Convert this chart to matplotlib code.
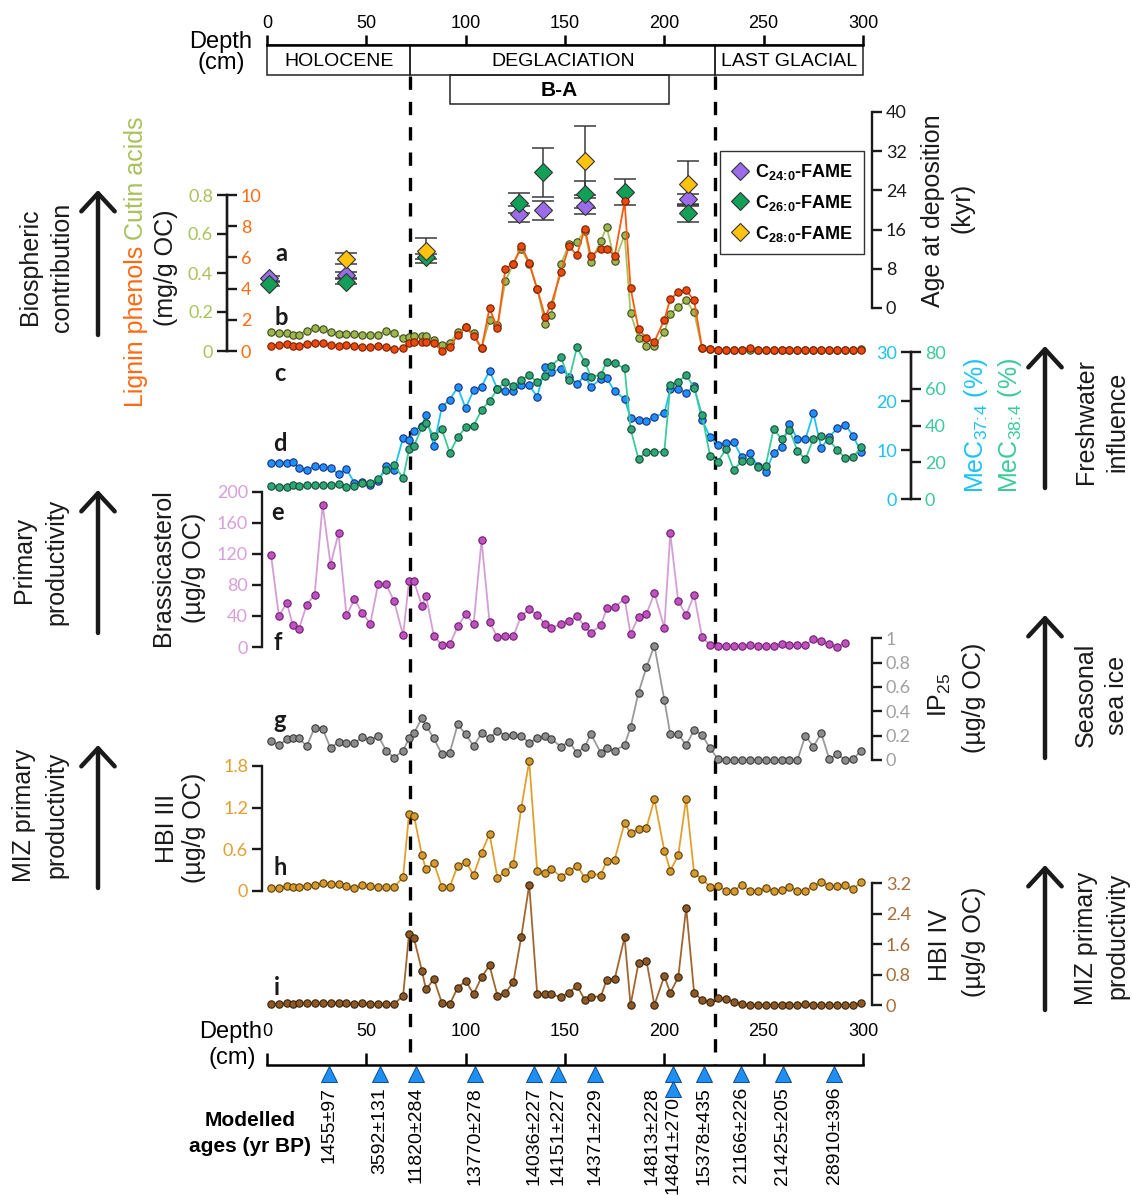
import numpy as np
import matplotlib
matplotlib.use('Agg')
import matplotlib.pyplot as plt
import matplotlib.transforms as mtransforms
from matplotlib.patches import Rectangle
from matplotlib.lines import Line2D

nan = np.nan

# ---------------- data ----------------
DEPTH = [2, 6, 10, 13, 16, 20, 24, 28, 32, 36, 40, 44, 48, 52, 56, 60, 64, 68.5, 71.5, 74,
         78, 80, 84, 88, 92, 96, 100, 104, 108, 112, 116, 120, 124, 128, 132, 136, 140, 143, 148, 152,
         156, 160, 163, 168, 171, 175, 180, 183, 187, 191, 195, 200, 203, 207, 211, 215, 219, 223, 227, 231,
         235, 239, 243, 247, 251, 255, 259, 263, 267, 271, 275, 279, 283, 287, 291, 295, 299]

CUTIN = [.100, .091, .091, .083, .083, .105, .117, .112, .095, .088, .088, .088, .083, .083, .083, .105, .091,
         .065, .074, .075, .077, .077,
         .057, .031, .040, .095, .122, .091, .014,
         .160, .134, .358, .447, .525, .444, .318, .139, .186, .447,
         .547, .560, .616, .456, .564, .636, .461, .595, .194, .065,
         .026, .026, .096, .191, .225, .260, .198, .014, .009,
         .006, .005, .005, .006, .005, .005, .005, .006, .005, .005, .005, .005, .006, .005, .005, .005, .005, .006, .008]

LIGNIN = [.34, .39, .43, .34, .34, .43, .54, .49, .39, .34, .39, .32, .28, .24, .32, .24, .11,
          .17, .54, .58, .60, .60,
          .49, .02, .24, 1.03, 1.53, .97, .17,
          2.75, 1.46, 5.27, 5.59, 6.73, 5.66, 3.98, 2.21, 2.97, 5.05,
          6.7, 6.15, 7.85, 6.09, 6.56, 6.56, 6.09, 9.59, 4.04, 1.40,
          .82, .60, 2.0, 3.33, 3.76, 3.89, 3.25, .17, .11,
          .06, .05, .05, .06, .17, .05, .05, .06, .05, .05, .05, .06, .05, .05, .05, .05, .06, .05, .05]

MEC37 = [7.4, 7.4, 7.4, 7.55, 6.4, 5.9, 6.7, 6.6, 6.3, 5.1, 6.1, 3.3, 3.5, 2.9, 3.7, 6.7, 5.9,
         12.5, 12.0, 13.9, 15.0, 17.1,
         10.8, 18.8, 20.3, 22.8, 18.5, 22.2, 22.9, 26.2, 22.4, 22.0, 22.0, 23.2, 23.2, 20.9, 26.9, 25.9,
         26.6, 25.0, 23.5, 25.2, 22.9, 24.5, 24.6, 22.0, 20.4, 16.6, 16.1, 15.9, 16.8, 17.5, 22.4, 22.4,
         21.6, 23.1, 16.1, 12.7, 11.0, 11.4, 11.6, 8.5, 9.3, 6.8, 5.6, 9.3, 10.7, 15.3, 12.2, 12.2, 17.5,
         10.4, 12.7, 14.4, 15.2, 12.9, 9.6]

MEC38 = [7.3, 6.7, 6.7, 7.6, 7.3, 7.4, 7.6, 7.4, 7.4, 8.2, 6.7, 7.1, 8.5, 8.9, 10.9, 15.8, 18.5, 11.3,
         27.0, 29.0, 39.0, 41.5,
         34.3, 37.9, 25.2, 33.6, 39.0, 39.9, 48.4, 53.5, 59.7, 63.9, 61.7, 64.8, 67.5, 63.5, 67.1, 72.6,
         77.1, 64.8, 82.5, 74.7, 66.6, 67.5, 74.7, 73.8, 71.1, 38.1, 21.8, 25.8, 25.4, 25.8, 62.0, 63.9,
         67.5, 60.6, 45.7, 23.6, 20.3, 27.2, 15.8, 20.9, 20.9, 17.2, 18.1, 38.1, 32.7, 37.6, 26.3, 21.6,
         32.7, 34.3, 32.1, 26.7, 22.5, 22.7, 28.1]

BRASSICASTEROL = [118.8, 39.7, 56.8, 27.8, 22.7, 54.3, 67.5, 182.9, 106.0, 146.2,
                  40.6, 61.1, 44.0, 29.9, 81.6, 80.4, 58.6, 15.0, 84.6, 84.6,
                  52.6, 66.2, 14.1, 2.6, 3.4, 26.5, 41.9, 29.9, 137.6, 32.1,
                  12.8, 14.1, 14.1, 40.2, 48.3, 41.5, 29.1, 24.4, 29.1, 33.3,
                  39.3, 26.5, 18.0, 27.8, 49.6, 51.3, 62.0, 16.7, 38.9, 42.7,
                  69.2, 24.8, 146.2, 58.6, 41.5, 67.1, 12.8, 2.6, 1.3, 1.3,
                  1.3, 1.3, 2.1, 1.3, 1.3, 1.3, 4.3, 2.6, 2.6, 2.1,
                  10.7, 7.3, 4.3, 0.0, 5.1, nan, nan]

IP25 = [.159, .123, .170, .178, .178, .115, .266, .258, .096, .151,
        .137, .137, .186, .164, .197, .077, .019, .077, .178, .22,
        .348, .282, .178, .047, .060, .293, .211, .115, .219, .178,
        .241, .200, .206, .197, .142, .178, .197, .173, .110, .151,
        .060, .110, .214, .060, .096, .077, .123, .269, .553, .762,
        .940, .493, .211, .211, .123, .247, .206, .096, .008,
        0, 0, 0, 0, 0, 0, 0, 0, 0, 0,
        .2, .11, .219, .008, .049, 0, .005, .077]

HBI_III = [.043, .043, .067, .048, .058, .067, .086, .106, .096, .096,
           .067, .034, .082, .062, .048, .048, .048, .20, 1.11, 1.08,
           .51, .31, .40, .058, .058, .36, .42, .23, .55, .82,
           .19, .27, .39, 1.20, 1.87, .29, .25, .32, .20, .28,
           .36, .19, .24, .23, .43, .45, .98, .83, .89, .91,
           1.32, .58, .29, .51, 1.33, .25, .17, .058, .072, 0,
           0, .082, 0, 0, .034, 0, .01, .048, 0, 0,
           .067, .13, .067, .067, .082, .024, .12]

HBI_IV = [.026, .018, .044, .026, .044, .044, .061, .044, .061, .061,
          .044, .026, .044, .026, .026, .026, .026, .24, 1.87, 1.75,
          .90, .41, .68, .06, .02, .46, .63, .29, .73, 1.04,
          .24, .32, .60, 1.80, 3.16, .29, .28, .28, .21, .32,
          .51, .13, .22, .22, .66, .68, 1.78, 0, 1.10, 1.17,
          0, .76, .32, .73, 2.56, .32, .13, .07, .18, .16,
          .09, .02, 0, 0, 0, 0, 0, 0, 0, .02,
          0, 0, 0, 0, 0, 0, .044]

FAME_DEPTH = [1, 40, 80, 127, 139, 160, 180, 212]
C24_AGE = [6.1, 6.7, nan, 19.2, 19.9, 20.8, nan, 22.2]
C24_ERR = [0.5, 0.6, nan, 1.7, 1.9, 1.7, nan, 1.0]
C26_AGE = [4.9, 5.4, 10.5, 21.4, 27.7, 23.2, 23.7, 19.3]
C26_ERR = [0.5, 0.6, 0.6, 2.0, 5.0, 2.7, 2.7, 1.8]
C28_AGE = [nan, 10.1, 11.7, nan, nan, 30.1, nan, 25.4]
C28_ERR = [nan, 1.2, 2.5, nan, nan, 7.0, nan, 4.6]
FAME_LABELS = [r'C$_{\mathbf{24\!:\!0}}$-FAME', r'C$_{\mathbf{26\!:\!0}}$-FAME',
               r'C$_{\mathbf{28\!:\!0}}$-FAME']

AGE_MODEL_DEPTH = [31, 56.7, 75, 104.7, 134.5, 146.5, 165, 204.5, 204.5, 219.8, 238.8, 259.5, 285.5]
AGE_MODEL_LABELS = ['1455±97', '3592±131', '11820±284', '13770±278', '14036±227', '14151±227',
                    '14371±229', '14813±228', '14841±270', '15378±435', '21166±226', '21425±205',
                    '28910±396']

PERIOD_EDGES = [0, 72.2, 225.5, 300]
PERIOD_NAMES = ['HOLOCENE', 'DEGLACIATION', 'LAST GLACIAL']
BA_RANGE = [92, 202.4]
DEPTH_TICKS = [0, 50, 100, 150, 200, 250, 300]

# ---------------- style ----------------
plt.rcParams['font.family'] = ['Liberation Sans', 'DejaVu Sans']
plt.rcParams['mathtext.fontset'] = 'custom'
plt.rcParams['mathtext.rm'] = 'Liberation Sans'
plt.rcParams['mathtext.it'] = 'Liberation Sans:italic'
plt.rcParams['mathtext.bf'] = 'Liberation Sans:bold'

W, H, DPI = 1132, 1195, 100
XL, XR = 267.0, 863.0
INK = '#1a1a1a'
NUM_FONT = ['Lato', 'DejaVu Sans']
NARROW = ['Liberation Sans Narrow', 'Liberation Sans', 'DejaVu Sans']

OLIVE_T = '#A9C25C'
ORANGE_T = '#FF6A13'
CYAN = '#19C3F5'
TEAL = '#3ACB98'
PLUM = '#D8A0D8'
GRAY_T = '#A0A0A0'
GOLD = '#E0A030'
BROWN = '#A86C38'

fig = plt.figure(figsize=(W / DPI, H / DPI), dpi=DPI)


def frac_rect(x0, y0, x1, y1):
    return [x0 / W, 1 - y1 / H, (x1 - x0) / W, (y1 - y0) / H]


ov = fig.add_axes([0, 0, 1, 1])
ov.set_xlim(0, W)
ov.set_ylim(H, 0)
ov.axis('off')


def make_axes(y0, y1):
    ax = fig.add_axes(frac_rect(XL, y0, XR, y1))
    ax.set_xlim(0, 300)
    ax.patch.set_visible(False)
    for s in ax.spines.values():
        s.set_visible(False)
    ax.set_xticks([])
    ax.tick_params(axis='y', left=False, right=False, labelleft=False, labelright=False)
    return ax


def style_y(ax, side, xpx, ticks, lim, color):
    ax.set_ylim(*lim)
    sp = ax.spines[side]
    sp.set_visible(True)
    sp.set_position(('axes', (xpx - XL) / (XR - XL)))
    sp.set_linewidth(1.7)
    sp.set_color(INK)
    ax.set_yticks(ticks)
    ax.set_yticklabels(['%g' % t for t in ticks], fontfamily=NUM_FONT)
    on_left = side == 'left'
    ax.tick_params(axis='y', left=on_left, labelleft=on_left, right=not on_left,
                   labelright=not on_left, direction='out', length=7, width=1.7,
                   color=INK, labelcolor=color, labelsize=13, pad=3)


def series(ax, y, line, face, edge):
    ax.plot(DEPTH, y, '-', color=line, lw=1.3, marker='o', ms=5.3, mfc=face, mec=edge,
            mew=0.8, clip_on=False, zorder=3)


# ---- a: FAME ages ----
ax_age = make_axes(112, 308)
style_y(ax_age, 'right', 872, [0, 8, 16, 24, 32, 40], (0, 40), INK)
fame_cols = ['#9B6BEA', '#12A058', '#FFC20E']
for ages, errs in [(C24_AGE, C24_ERR), (C26_AGE, C26_ERR), (C28_AGE, C28_ERR)]:
    ax_age.errorbar(FAME_DEPTH, ages, yerr=errs, fmt='none', ecolor='#3a3a3a',
                    elinewidth=1.1, capsize=8, capthick=1.1, zorder=3)
for ages, col in zip([C24_AGE, C26_AGE, C28_AGE], fame_cols):
    ax_age.plot(FAME_DEPTH, ages, ls='none', marker='D', ms=9, mfc=col, mec='#333333',
                mew=0.8, zorder=4, clip_on=False)
handles = [Line2D([], [], ls='none', marker='D', ms=9, mfc=c, mec='#333333', mew=0.8)
           for c in fame_cols]
leg = ax_age.legend(handles, FAME_LABELS, loc='upper left',
                    bbox_to_anchor=(720 / W, 1 - 151 / H), bbox_transform=fig.transFigure,
                    frameon=True, fancybox=False, edgecolor='#333333', framealpha=1,
                    borderpad=0.6, labelspacing=0.6, handletextpad=0.35, handlelength=1.0,
                    borderaxespad=0, prop={'weight': 'bold', 'size': 13})
leg.get_frame().set_linewidth(1.0)

# ---- b: lignin phenols and cutin acids ----
ax_cut = make_axes(195, 351)
ax_lig = make_axes(195, 351)
style_y(ax_cut, 'left', 227, [0, 0.2, 0.4, 0.6, 0.8], (0, 0.8), OLIVE_T)
style_y(ax_lig, 'right', 227, [0, 2, 4, 6, 8, 10], (0, 10), ORANGE_T)
series(ax_lig, LIGNIN, '#FF5A0F', '#E84A10', '#7A2000')
series(ax_cut, CUTIN, '#A6C25A', '#9DB64E', '#3F4A1C')

# ---- c, d: MeC37:4 and MeC38:4 ----
ax_c = make_axes(352, 499)
ax_d = make_axes(352, 499)
style_y(ax_c, 'left', 911, [0, 10, 20, 30], (0, 30), CYAN)
style_y(ax_d, 'right', 911, [0, 20, 40, 60, 80], (0, 80), TEAL)
series(ax_d, MEC38, TEAL, '#2EA877', '#164A36')
series(ax_c, MEC37, CYAN, '#1E90FF', '#1B2F7A')

# ---- e: brassicasterol ----
ax_e = make_axes(491.5, 647)
style_y(ax_e, 'left', 262, [0, 40, 80, 120, 160, 200], (0, 200), PLUM)
series(ax_e, BRASSICASTEROL, '#D49ED4', '#C052C0', '#6E1E6E')

# ---- g: IP25 ----
ax_g = make_axes(638.3, 760)
style_y(ax_g, 'right', 872, [0, 0.2, 0.4, 0.6, 0.8, 1], (0, 1), GRAY_T)
series(ax_g, IP25, '#9A9A9A', '#8C8C8C', '#3A3A3A')

# ---- h: HBI III ----
ax_h = make_axes(766, 890.7)
style_y(ax_h, 'left', 262, [0, 0.6, 1.2, 1.8], (0, 1.8), GOLD)
series(ax_h, HBI_III, GOLD, '#D49A2E', '#5C3C08')

# ---- i: HBI IV ----
ax_i = make_axes(883.3, 1005)
style_y(ax_i, 'right', 872, [0, 0.8, 1.6, 2.4, 3.2], (0, 3.2), BROWN)
series(ax_i, HBI_IV, '#A06630', '#8C5A28', '#3A2208')

# ---- top depth axis with periods ----
ax_top = fig.add_axes(frac_rect(XL, 45, XR, 104))
ax_top.set_xlim(0, 300)
ax_top.set_ylim(59, 0)
ax_top.patch.set_visible(False)
for s in ['left', 'right', 'bottom']:
    ax_top.spines[s].set_visible(False)
ax_top.spines['top'].set_linewidth(1.8)
ax_top.xaxis.set_ticks_position('top')
ax_top.set_xticks(DEPTH_TICKS)
ax_top.set_xticklabels([str(t) for t in DEPTH_TICKS], fontfamily=NARROW)
ax_top.tick_params(axis='x', direction='out', length=7, width=1.8, labelsize=13, pad=2)
ax_top.set_yticks([])
for i, name in enumerate(PERIOD_NAMES):
    a, b = PERIOD_EDGES[i], PERIOD_EDGES[i + 1]
    ax_top.add_patch(Rectangle((a, 0), b - a, 30, fill=False, lw=1.1, ec='#222222', clip_on=False))
    ax_top.text((a + b) / 2, 16, name, ha='center', va='center', fontsize=14, fontfamily=NARROW)
ax_top.add_patch(Rectangle((BA_RANGE[0], 30), BA_RANGE[1] - BA_RANGE[0], 29, fill=False,
                           lw=1.1, ec='#222222', clip_on=False))
ax_top.text(sum(BA_RANGE) / 2, 45, 'B-A', ha='center', va='center', fontsize=15, fontweight='bold')

# dashed period boundaries
trans = mtransforms.blended_transform_factory(ax_top.transData, ov.transData)
for d in PERIOD_EDGES[1:3]:
    ov.add_line(Line2D([d, d], [76, 1065], transform=trans, color='black', lw=2.4,
                       ls=(0, (4, 3.6)), clip_on=False))

# ---- bottom depth axis with modelled ages ----
ax_bot = fig.add_axes(frac_rect(XL, 1065, XR, 1195))
ax_bot.set_xlim(0, 300)
ax_bot.set_ylim(130, 0)
ax_bot.patch.set_visible(False)
for s in ['left', 'right', 'bottom']:
    ax_bot.spines[s].set_visible(False)
ax_bot.spines['top'].set_linewidth(1.8)
ax_bot.xaxis.set_ticks_position('top')
ax_bot.set_xticks(DEPTH_TICKS)
ax_bot.set_xticklabels([str(t) for t in DEPTH_TICKS], fontfamily=NARROW)
ax_bot.tick_params(axis='x', direction='out', length=9, width=1.8, labelsize=13, pad=9)
ax_bot.set_yticks([])
prev = None
for d, lab in zip(AGE_MODEL_DEPTH, AGE_MODEL_LABELS):
    stacked = prev is not None and d == prev
    ax_bot.plot([d], [23.5 if stacked else 9], marker='^', ms=11.5, mfc='#1E8FF5',
                mec='#0D4C8C', mew=0.7, ls='none', clip_on=False)
    prev = d
for k, (d, lab) in enumerate(zip(AGE_MODEL_DEPTH, AGE_MODEL_LABELS)):
    dup_next = k + 1 < len(AGE_MODEL_DEPTH) and AGE_MODEL_DEPTH[k + 1] == d
    dup_prev = k > 0 and AGE_MODEL_DEPTH[k - 1] == d
    x = d - 10.5 if dup_next else d
    ytop = 30.5 if dup_prev else 22
    ax_bot.text(x, ytop, lab, rotation=90, ha='center', va='top', fontsize=14, clip_on=False)

# ---- text labels ----
def vtext(x, y, s, size=18, color=INK, **kw):
    return ov.text(x, y, s, rotation=90, ha='center', va='center', fontsize=size, color=color, **kw)

# left side
vtext(30, 267, 'Biospheric')
vtext(62, 267, 'contribution')
vtext(24, 560, 'Primary')
vtext(56, 562, 'productivity')
vtext(24, 815, 'MIZ primary')
vtext(56, 815, 'productivity')
t1 = ov.text(136, 116, 'Cutin acids', rotation=90, ha='center', va='top', fontsize=18, color=OLIVE_T)
fig.canvas.draw()
bb = t1.get_window_extent()
ov.text(136, H - bb.y0 + 6, 'Lignin phenols', rotation=90, ha='center', va='top', fontsize=18,
        color=ORANGE_T)
vtext(166, 268, '(mg/g OC)')
vtext(163, 568, 'Brassicasterol')
vtext(194, 568, '(µg/g OC)')
vtext(167, 828, 'HBI III')
vtext(194, 828, '(µg/g OC)')

# right side
vtext(933, 211, 'Age at deposition')
vtext(963, 208, '(kyr)')
vtext(976, 425, r'MeC$_{37\!:\!4}$ (%)', color=CYAN)
vtext(1010, 425, r'MeC$_{38\!:\!4}$ (%)', color=TEAL)
vtext(1086, 421, 'Freshwater')
vtext(1117, 422, 'influence')
vtext(940, 695, r'IP$_{25}$')
vtext(974, 698, '(µg/g OC)')
vtext(1086, 695, 'Seasonal')
vtext(1117, 695, 'sea ice')
vtext(940, 945, 'HBI IV')
vtext(974, 942, '(µg/g OC)')
vtext(1086, 938, 'MIZ primary')
vtext(1117, 936, 'productivity')

# depth axis titles
ov.text(221, 42, 'Depth', ha='center', va='center', fontsize=17)
ov.text(221, 63, '(cm)', ha='center', va='center', fontsize=17)
ov.text(262, 1032, 'Depth', ha='right', va='center', fontsize=17)
ov.text(232, 1058, '(cm)', ha='center', va='center', fontsize=17)
ov.text(250, 1120, 'Modelled', ha='center', va='center', fontsize=15, fontweight='bold')
ov.text(250, 1146, 'ages (yr BP)', ha='center', va='center', fontsize=15, fontweight='bold')

# panel letters
for s, x, y in [('a', 281, 253), ('b', 281, 317), ('c', 280, 373), ('d', 280, 443),
                ('e', 278, 512), ('f', 278, 642), ('g', 280, 720), ('h', 280, 867),
                ('i', 277, 987)]:
    ov.text(x, y, s, ha='center', va='center', fontsize=17, fontweight='bold',
            fontfamily=NUM_FONT, color=INK)

# arrows
for x, y_tail, y_head in [(98, 335, 190), (98, 633, 490), (98, 888, 745),
                          (1045, 488, 346), (1045, 758, 615), (1045, 1010, 865)]:
    ov.annotate('', xy=(x, y_head), xytext=(x, y_tail), xycoords='data',
                arrowprops=dict(arrowstyle='->,head_length=0.65,head_width=0.6', lw=3.2,
                                color='#1a1a1a', mutation_scale=20, shrinkA=0, shrinkB=0))

fig.savefig('out.png', dpi=DPI)
